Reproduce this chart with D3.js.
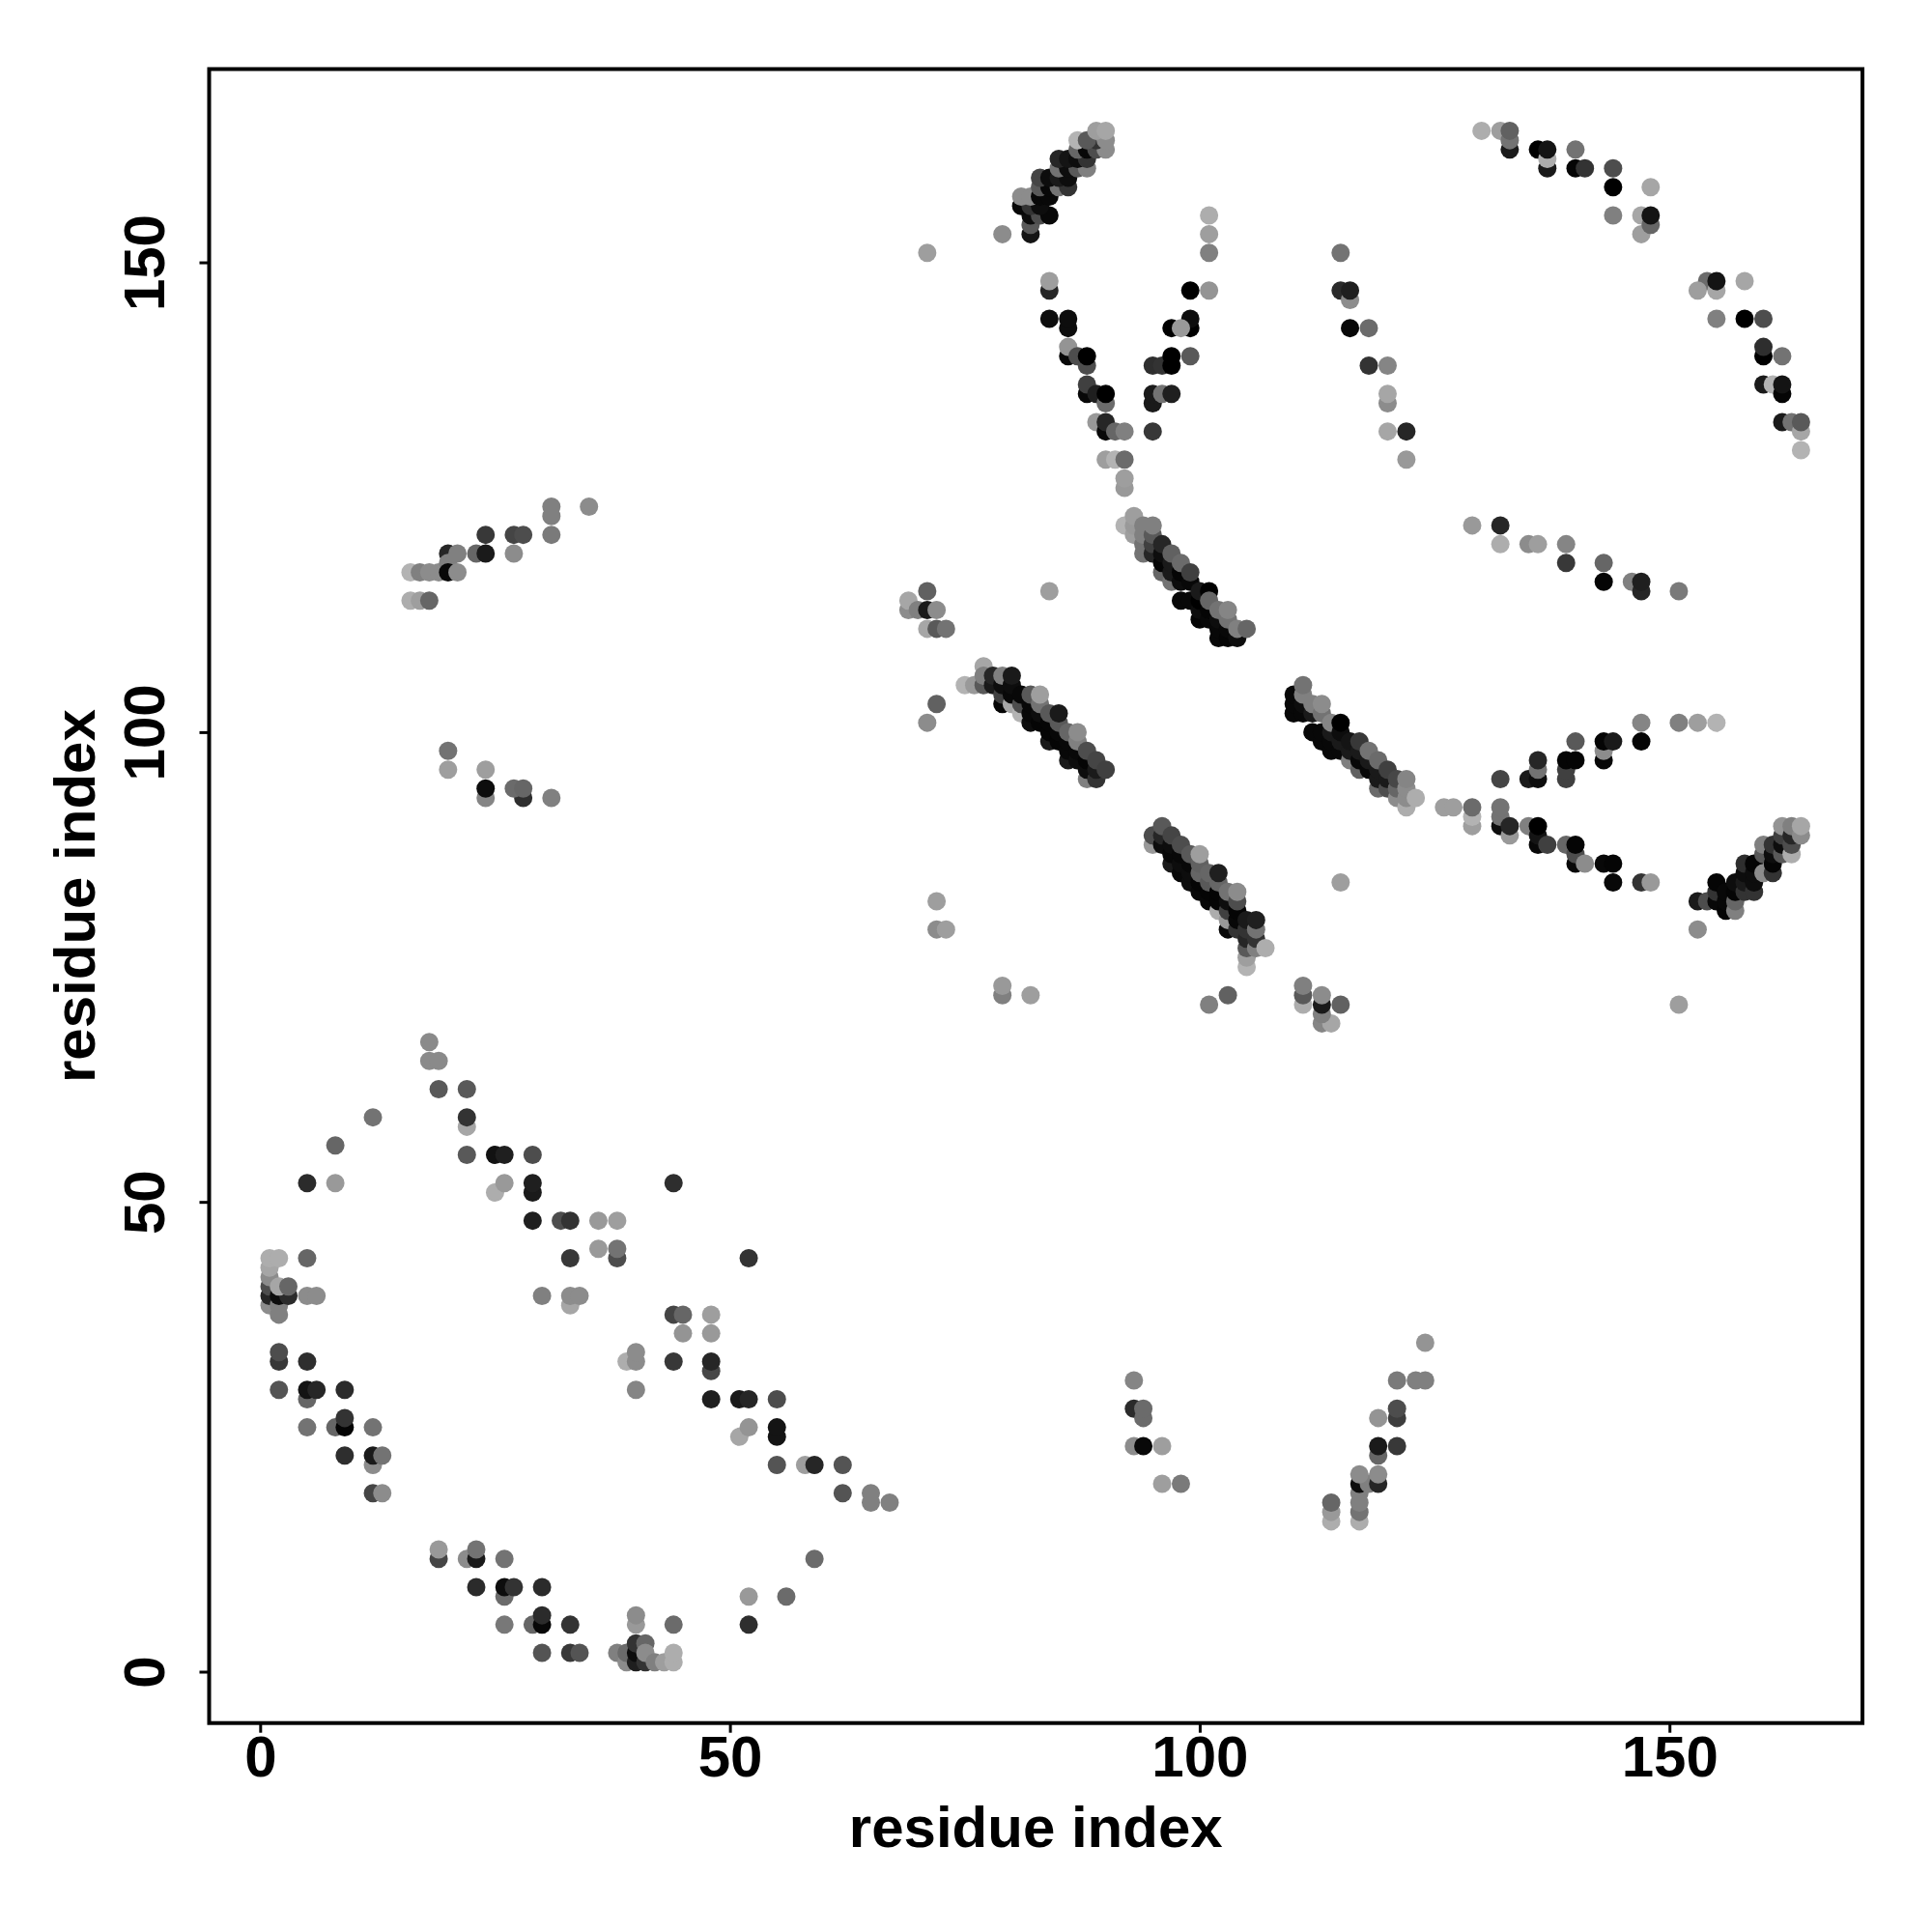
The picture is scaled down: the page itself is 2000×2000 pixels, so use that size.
<!DOCTYPE html>
<html><head><meta charset="utf-8">
<script src="https://cdnjs.cloudflare.com/ajax/libs/d3/7.8.5/d3.min.js"></script>
<style>html,body{margin:0;padding:0;background:#fff}svg{display:block}</style>
</head><body><svg id="c" width="2000" height="2000"></svg>
<script>
// Each contact is [residue i, residue j, grey shade 0 (black) .. 1 (white)]
const lowerLeftArc = [[18,67,.54],[18,65,.54],[19,65,.54],[19,62,.35],[22,62,.35],[22,58,.65],[22,59,.2],[22,55,.35],[25,55,.07],[26,55,.12],[29,55,.3],[25,51,.68],[26,52,.6],[29,51,.1],[29,52,.12],[29,48,.12],[32,48,.3],[33,48,.2],[36,48,.6],[38,48,.62],[36,45,.6],[38,44,.3],[38,45,.45],[33,44,.22],[30,40,.5],[33,39,.65],[33,40,.55],[34,40,.55],[44,52,.18],[52,44,.2],[12,59,.45],[8,56,.4],[5,52,.17],[8,52,.6],[5,44,.4]];
const leftColumn = [[1,39,.55],[1,40,.15],[1,41,.3],[1,42,.55],[1,43,.65],[1,44,.68],[2,38,.5],[2,39,.5],[2,40,.05],[3,40,.17],[2,41,.65],[3,41,.4],[2,44,.68],[5,40,.55],[6,40,.55]];
const leftDiagonal = [[2,33,.22],[2,34,.3],[5,33,.18],[2,30,.33],[5,29,.4],[5,30,.08],[6,30,.15],[9,30,.17],[5,26,.45],[8,26,.4],[9,26,.02],[9,27,.2],[12,26,.45],[9,23,.18],[12,22,.55],[12,23,.1],[13,23,.45],[12,19,.27],[13,19,.55]];
const middleDiagonal = [[44,38,.27],[45,38,.4],[48,38,.62],[45,36,.58],[48,36,.6],[39,33,.68],[40,33,.55],[40,34,.55],[44,33,.22],[48,32,.28],[48,33,.15],[40,30,.52],[48,29,.12],[51,29,.1],[52,29,.15],[55,29,.3],[51,25,.65],[52,26,.58],[55,25,.08],[55,26,.08],[55,22,.33],[58,22,.62],[59,22,.15],[62,22,.33],[62,19,.33],[65,18,.5],[65,19,.5],[67,18,.5],[59,12,.42],[56,8,.42],[52,8,.6],[52,5,.18]];
const bottomArc = [[19,12,.27],[19,13,.6],[22,12,.55],[23,12,.1],[23,13,.45],[26,12,.45],[23,9,.17],[26,8,.42],[26,9,.05],[27,9,.2],[30,9,.17],[26,5,.47],[29,5,.4],[30,5,.03],[30,6,.17],[33,5,.2],[40,5,.6],[40,6,.55],[44,5,.42],[30,2,.33],[33,2,.22],[34,2,.33]];
const bottomCluster = [[38,2,.5],[39,1,.55],[39,2,.42],[40,1,.12],[40,2,.05],[40,3,.2],[41,1,.2],[41,3,.4],[41,2,.55],[42,1,.5],[43,1,.62],[44,1,.68],[44,2,.68]];
const upperLeftGroup = [[31,123,.5],[31,124,.5],[35,124,.55],[31,121,.48],[24,121,.22],[27,121,.27],[28,121,.3],[20,119,.15],[21,119,.5],[23,119,.4],[24,119,.1],[27,119,.55],[16,117,.7],[17,117,.5],[18,117,.55],[19,117,.55],[20,118,.5],[20,117,.03],[21,117,.55],[16,114,.68],[17,114,.62],[18,114,.4]];
const midLeftGroup = [[20,98,.45],[20,96,.62],[24,96,.62],[24,93,.52],[24,94,.05],[28,93,.18],[27,94,.42],[28,94,.4],[31,93,.5]];
const topCluster = [[79,153,.55],[71,151,.62],[82,153,.08],[82,154,.35],[82,155,.05],[83,155,.3],[84,155,.03],[81,156,.03],[82,156,.2],[83,156,.05],[81,157,.55],[82,157,.55],[83,157,.03],[84,157,.03],[83,158,.35],[84,158,.03],[85,158,.45],[86,158,.2],[83,159,.27],[84,159,.05],[85,159,.1],[86,159,.05],[85,160,.45],[86,160,.05],[87,160,.35],[88,160,.5],[85,161,.15],[86,161,.08],[87,161,.05],[88,161,.2],[87,162,.4],[88,162,.03],[89,162,.3],[90,162,.55],[87,163,.7],[89,163,.2],[88,163,.35],[90,163,.55],[89,164,.62],[90,164,.65]];
const veeLeft = [[84,147,.15],[84,148,.62],[84,144,.05],[86,143,.05],[86,144,.05],[86,140,.03],[86,141,.58],[87,140,.3],[88,139,.3],[88,140,0],[88,136,.03],[88,137,.25],[89,136,.12],[90,135,.42],[90,136,0],[89,133,.6],[90,132,.03],[90,133,.15],[91,132,.4],[92,132,.5],[90,129,.62],[91,129,.7],[92,129,.42],[92,126,.6],[92,127,.62]];
const veeRight = [[101,155,.68],[101,153,.62],[101,151,.5],[101,147,.58],[99,147,0],[99,143,0],[99,144,.05],[97,143,0],[98,143,.6],[99,140,.35],[95,139,.18],[96,139,.2],[97,139,0],[97,140,0],[95,135,.1],[95,136,.1],[96,136,.45],[97,136,.12],[95,132,.22]];
const upperMiddleRun = [[115,151,.45],[115,147,.17],[116,146,.55],[116,147,.12],[116,143,.03],[118,143,.42],[118,139,.2],[120,139,.52],[120,135,.55],[120,136,.65],[120,132,.65],[122,132,.15],[122,129,.6]];
const topRightArc = [[130,164,.68],[132,164,.62],[133,162,.1],[133,163,.45],[133,164,.38],[136,162,0],[137,160,.1],[137,161,.68],[137,162,.08],[140,162,.45],[140,160,.02],[141,160,.2],[144,160,.3],[144,158,0],[148,158,.65],[144,155,.5],[147,153,.62],[147,155,.65],[148,154,.4],[148,155,.08]];
const rightArc = [[154,148,.42],[153,147,.62],[155,147,.65],[155,148,.08],[158,148,.65],[155,144,.5],[158,144,0],[160,144,.3],[160,140,0],[160,141,.18],[162,140,.45],[160,137,.1],[161,137,.7],[162,136,.02],[162,137,.08],[162,133,.1],[163,133,.45],[164,130,.7],[164,132,.65],[164,133,.35]];
const rightLowerRun = [[129,122,.6],[132,122,.15],[132,120,.68],[135,120,.55],[136,120,.62],[139,120,.52],[139,118,.22],[143,118,.4],[143,116,.02],[146,116,.5],[147,115,.15],[147,116,.12],[151,115,.48]];
const smallGroup = [[71,115,.38],[69,113,.55],[69,114,.65],[70,113,.5],[71,113,.1],[72,113,.55],[71,111,.65],[72,111,.35],[73,111,.45],[84,115,.62],[72,103,.38],[71,101,.55],[72,82,.62],[72,79,.55],[73,79,.62],[115,84,.62],[79,72,.5],[79,73,.6],[82,72,.62],[103,72,.38],[101,71,.5]];
const bandOne = [[92,122,.7],[93,121,.62],[93,122,.6],[93,123,.62],[94,119,.45],[94,120,.45],[94,121,.5],[94,122,.5],[95,119,.15],[95,120,.25],[95,121,.35],[95,122,.5],[96,117,.4],[96,118,.02],[96,119,.05],[96,120,.15],[97,116,.45],[97,117,.1],[97,118,.1],[97,119,.38],[98,114,.03],[98,116,.05],[98,117,.02],[98,118,.42],[99,114,.03],[99,116,.03],[99,117,.25],[100,112,.02],[100,113,.05],[100,114,0],[100,115,.1],[101,112,.03],[101,113,.02],[101,115,0],[101,114,.4],[102,110,.03],[102,111,.03],[102,112,.05],[102,113,.45],[103,110,.02],[103,111,.03],[103,112,.45],[103,113,.52],[104,110,.05],[104,111,.5],[105,111,.4]];
const bandTwo = [[75,105,.7],[76,105,.6],[77,107,.65],[77,105,.35],[77,106,.5],[78,105,.1],[78,106,.15],[79,103,.02],[79,104,.25],[79,105,.05],[79,106,.5],[80,103,.65],[80,104,.03],[80,105,.05],[80,106,.1],[81,102,.7],[81,103,.3],[81,104,.03],[82,101,.05],[82,102,.03],[82,103,.03],[82,104,.35],[83,101,.02],[83,102,.05],[83,103,.45],[83,104,.62],[84,99,.1],[84,100,.02],[84,101,.02],[84,102,.35],[85,99,.02],[85,100,.03],[85,101,.35],[85,102,.1],[86,97,.1],[86,98,.03],[86,99,.03],[86,100,.4],[87,97,.05],[87,98,.03],[87,99,.5],[87,100,.55],[88,95,.5],[88,96,.05],[88,97,.02],[88,98,.3],[89,95,.2],[89,96,.1],[89,97,.27],[90,96,.25]];
const bandThree = [[95,88,.6],[95,89,.3],[96,88,.05],[96,89,.15],[96,90,.35],[97,86,.1],[97,87,.03],[97,88,.05],[97,89,.27],[98,85,.03],[98,86,.05],[98,87,.03],[98,88,.3],[99,84,.05],[99,85,.05],[99,86,.03],[99,87,.35],[100,83,.03],[100,84,.02],[100,85,.4],[100,86,.38],[100,87,.62],[101,82,.03],[101,83,.02],[101,84,.35],[101,85,.4],[102,81,.68],[102,82,.02],[102,83,.02],[102,84,.4],[102,85,.12],[103,79,.03],[103,80,.6],[103,81,.25],[103,82,.05],[103,83,.45],[104,79,.2],[104,80,.03],[104,81,.02],[104,82,.3],[104,83,.55],[105,75,.7],[105,76,.62],[105,77,.35],[105,78,.15],[105,79,.2],[105,80,.1],[106,77,.5],[106,78,.2],[106,79,.45],[106,80,.12],[107,77,.68]];
const bandFour = [[110,102,.03],[110,103,.03],[110,104,.03],[111,102,.03],[111,103,.05],[111,104,.5],[111,105,.45],[112,100,.03],[112,102,.1],[112,103,.5],[113,99,.03],[113,100,.03],[113,102,.45],[113,103,.55],[114,98,.03],[114,99,.03],[114,100,.1],[114,101,.52],[115,98,.03],[115,99,.1],[115,100,.05],[115,101,0],[116,97,.5],[116,98,.1],[116,99,.08],[117,96,.38],[117,97,.03],[117,98,.1],[117,99,.22],[118,96,.03],[118,97,.1],[118,98,.45],[119,94,.42],[119,95,.1],[119,96,.1],[119,97,.42],[120,94,.3],[120,95,.1],[120,96,.25],[121,93,.55],[121,94,.4],[121,95,.28],[122,92,.68],[122,93,.55],[122,94,.55],[122,95,.52],[123,93,.68]];
const crossLower = [[126,92,.62],[127,92,.62],[129,90,.62],[129,91,.7],[129,92,.42],[132,90,.05],[132,91,.45],[132,92,.45],[133,89,.6],[133,90,.15],[135,90,.5],[136,88,.03],[136,89,.08],[136,90,0],[137,88,.25],[139,88,.4],[140,86,.03],[140,87,.3],[140,88,.02],[141,86,.55],[143,86,.03],[144,86,.02],[144,84,.03],[147,84,.2],[148,84,.6]];
const crossUpper = [[132,95,.27],[135,95,.1],[136,95,.05],[136,96,.45],[136,97,.15],[139,95,.25],[139,96,.25],[139,97,.02],[140,97,.02],[140,99,.35],[143,97,.03],[143,98,.55],[143,99,.02],[144,99,.1],[147,99,.02],[147,101,.52],[151,101,.5],[153,101,.62],[155,101,.7]];
const bandFive = [[153,79,.55],[153,82,.1],[154,82,.3],[155,82,.03],[155,83,.2],[155,84,.02],[156,81,.02],[156,82,.03],[156,83,.03],[157,81,.5],[157,82,.4],[157,83,.02],[157,84,.05],[158,83,.2],[158,84,.1],[158,85,.05],[158,86,.18],[159,83,.2],[159,84,.05],[159,85,.05],[159,86,.02],[160,85,.55],[160,87,.35],[160,88,.5],[161,85,.2],[161,86,.02],[161,87,.05],[161,88,.2],[162,87,.35],[162,88,.05],[162,89,.25],[162,90,.58],[163,87,.68],[163,88,.3],[163,89,.15],[163,90,.5],[164,89,.55],[164,90,.65]];
const lowerMiddle = [[111,71,.68],[111,72,.35],[111,73,.5],[113,69,.52],[114,69,.65],[113,70,.5],[113,71,.1],[113,72,.55],[115,71,.38],[151,71,.62]];
const lowerLeftVee = [[93,31,.52],[93,28,.17],[94,27,.42],[94,28,.42],[93,24,.55],[94,24,.03],[96,24,.62],[96,20,.62],[98,20,.48]];
const lowerRightVee = [[124,35,.58],[121,31,.48],[123,31,.5],[124,31,.5],[121,27,.24],[121,28,.3],[119,27,.58],[119,23,.4],[119,24,.1],[121,24,.22],[117,16,.68],[117,17,.45],[117,18,.5],[117,19,.5],[117,20,.05],[118,20,.5],[119,20,.15],[117,21,.55],[119,21,.55],[114,16,.68],[114,17,.6],[114,18,.4]];

const clusters = [lowerLeftArc,leftColumn,leftDiagonal,middleDiagonal,bottomArc,bottomCluster,upperLeftGroup,midLeftGroup,topCluster,veeLeft,veeRight,upperMiddleRun,topRightArc,rightArc,rightLowerRun,smallGroup,bandOne,bandTwo,bandThree,bandFour,crossLower,crossUpper,bandFive,lowerMiddle,lowerLeftVee,lowerRightVee];
const xTicks = [0,50,100,150];
const yTicks = [0,50,100,150];
const xLabel = "residue index";
const yLabel = "residue index";

const frame = {left:216.5,right:1928,top:71.5,bottom:1783.7};
const x = d3.scaleLinear().domain([-5.43,170.54]).range([frame.left,frame.right]);
const y = d3.scaleLinear().domain([-5.47,170.57]).range([frame.bottom,frame.top]);
const shade = d3.scaleLinear().domain([0,1]).range(["#000","#fff"]);
const FONT = '"Liberation Sans",Arial,Helvetica,sans-serif';

const svg = d3.select("#c");
svg.append("g").selectAll("circle").data(clusters.flat()).join("circle")
  .attr("cx",d=>x(d[0])).attr("cy",d=>y(d[1])).attr("r",9.5).attr("fill",d=>shade(d[2]));

svg.append("rect").attr("x",frame.left).attr("y",frame.top)
  .attr("width",frame.right-frame.left).attr("height",frame.bottom-frame.top)
  .attr("fill","none").attr("stroke","#000").attr("stroke-width",4);

const gx = svg.append("g").attr("transform",`translate(0,${frame.bottom})`)
  .call(d3.axisBottom(x).tickValues(xTicks).tickFormat(d3.format("d")).tickSize(10).tickPadding(0));
gx.select(".domain").remove();
gx.selectAll("line").attr("stroke","#000").attr("stroke-width",3);
gx.selectAll("text").attr("dy",null).attr("y",55.5)
  .attr("font-family",FONT).attr("font-weight","bold").attr("font-size",60).attr("fill","#000");

const gy = svg.append("g").attr("transform",`translate(${frame.left},0)`)
  .call(d3.axisLeft(y).tickValues(yTicks).tickFormat(d3.format("d")).tickSize(10).tickPadding(0));
gy.select(".domain").remove();
gy.selectAll("line").attr("stroke","#000").attr("stroke-width",3);
gy.selectAll("text").attr("dy",null).attr("x",null).attr("y",null)
  .attr("text-anchor","middle")
  .attr("transform",`translate(${170-frame.left},0) rotate(-90)`)
  .attr("font-family",FONT).attr("font-weight","bold").attr("font-size",60).attr("fill","#000");

svg.append("text").attr("x",(frame.left+frame.right)/2).attr("y",1911.7).attr("text-anchor","middle")
  .attr("font-family",FONT).attr("font-weight","bold").attr("font-size",60).text(xLabel);
svg.append("text").attr("transform",`translate(98.3,${(frame.top+frame.bottom)/2}) rotate(-90)`).attr("text-anchor","middle")
  .attr("font-family",FONT).attr("font-weight","bold").attr("font-size",60).text(yLabel);
</script></body></html>
